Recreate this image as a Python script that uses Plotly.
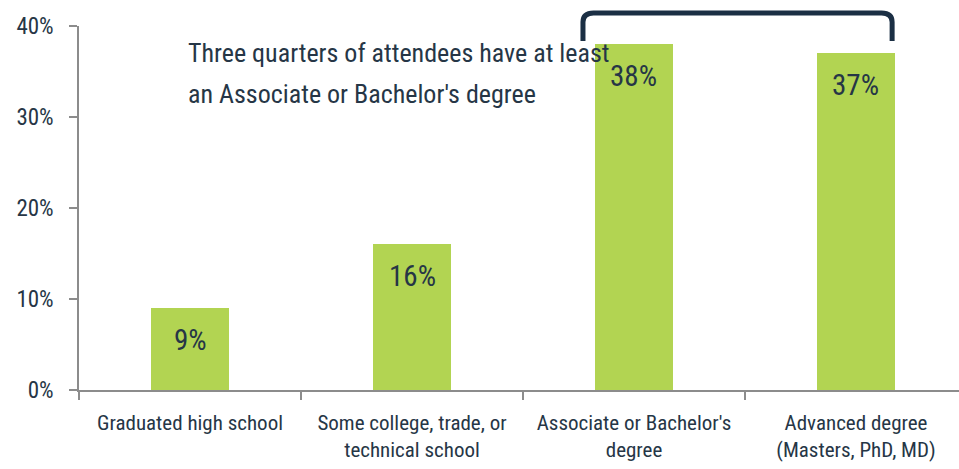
import plotly.graph_objects as go

categories = ["Graduated high school", "Some college, trade, or<br>technical school",
              "Associate or Bachelor's<br>degree", "Advanced degree<br>(Masters, PhD, MD)"]
values = [9, 16, 38, 37]
value_labels = ["9%", "16%", "38%", "37%"]
y_tickvals = [0, 10, 20, 30, 40]
y_ticktext = ["0%", "10%", "20%", "30%", "40%"]
note_lines = ["Three quarters of attendees have at least", "an Associate or Bachelor's degree"]

FONT = "Roboto Condensed, sans-serif"
TXT = "#263646"
AX = "#8c8c8c"

fig = go.Figure()
fig.add_trace(go.Bar(x=categories, y=values, width=0.35,
                     marker=dict(color="#b2d452", line=dict(width=0)),
                     hoverinfo="skip"))

for c, v, t in zip(categories, values, value_labels):
    fig.add_annotation(x=c, y=v, text=t, showarrow=False, yanchor="middle", yshift=-32,
                       font=dict(family=FONT, size=29, color=TXT))

note_y = [0.926, 0.813]
for line, yy in zip(note_lines, note_y):
    fig.add_annotation(xref="paper", yref="paper", x=0.122, y=yy, text=line, showarrow=False,
                       xanchor="left", yanchor="middle",
                       font=dict(family=FONT, size=26, color=TXT))

# bracket
x0, x1 = 0.5727, 0.924
yb, yt = 0.9588, 1.0357
r = 0.012
ry = 0.025
path = (f"M {x0} {yb} L {x0} {yt - ry} Q {x0} {yt} {x0 + r} {yt} "
        f"L {x1 - r} {yt} Q {x1} {yt} {x1} {yt - ry} L {x1} {yb}")
fig.add_shape(type="path", path=path, xref="paper", yref="paper",
              line=dict(color="#1b2f44", width=5))

fig.update_layout(
    width=959, height=469,
    margin=dict(l=79, r=0, t=26, b=79),
    paper_bgcolor="white", plot_bgcolor="white",
    showlegend=False,
    bargap=0,
    xaxis=dict(type="category", range=[-0.5, 3.464], tickson="boundaries", ticks="outside",
               ticklen=8, tickangle=0,
               tickcolor=AX, tickwidth=1.5, showline=True, linecolor=AX, linewidth=1.5,
               showgrid=False, zeroline=False, ticklabelstandoff=13,
               tickfont=dict(family=FONT, size=21, color=TXT)),
    yaxis=dict(range=[0, 40], tickmode="array", tickvals=y_tickvals, ticktext=y_ticktext,
               ticks="outside", ticklen=8, tickcolor=AX, tickwidth=1.5,
               showline=True, linecolor=AX, linewidth=1.5, showgrid=False, zeroline=False,
               ticklabelstandoff=11,
               tickfont=dict(family=FONT, size=23, color=TXT)),
)

fig.write_html("out.html")
